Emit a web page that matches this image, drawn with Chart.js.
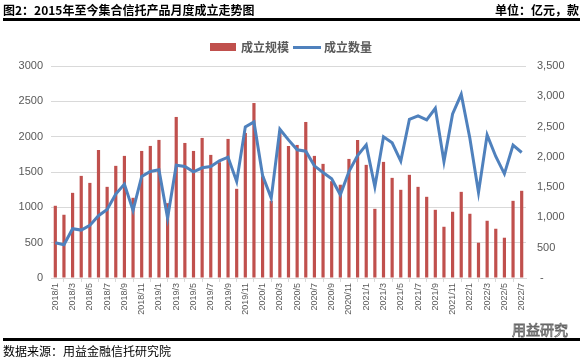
<!DOCTYPE html>
<html>
<head>
<meta charset="utf-8">
<script src="https://cdn.jsdelivr.net/npm/chart.js@4.4.1/dist/chart.umd.min.js"></script>
<style>
  body { margin: 0; background: #fff; }
  #wrap { position: relative; width: 583px; height: 360px; overflow: hidden; font-family: "Noto Sans CJK SC", sans-serif; }
  canvas { position: absolute; left: 0; top: 0; }
  .txt { position: absolute; white-space: nowrap; }
  .rule { position: absolute; left: 3px; width: 577px; height: 3px; background: #000; }
</style>
</head>
<body>
<div id="wrap">
  <canvas id="chart" width="583" height="360"></canvas>
  <div class="txt" style="left:3px;top:1px;font-size:12px;font-weight:bold;">图2：2015年至今集合信托产品月度成立走势图</div>
  <div class="txt" style="right:4px;top:1px;font-size:12px;font-weight:bold;">单位：亿元，款</div>
  <div class="rule" style="top:18px;"></div>

  <div class="txt" style="left:210px;top:43px;width:26px;height:8px;background:#C0504D;"></div>
  <div class="txt" style="left:241px;top:38px;font-size:12px;font-weight:bold;color:#595959;">成立规模</div>
  <div class="txt" style="left:293px;top:46px;width:28px;height:3px;background:#4F81BD;"></div>
  <div class="txt" style="left:324px;top:38px;font-size:12px;font-weight:bold;color:#595959;">成立数量</div>

  <div class="txt" style="left:512px;top:319px;font-size:14px;color:#fff;-webkit-text-stroke:0.8px #666;">用益研究</div>
  <div class="rule" style="top:338px;"></div>
  <div class="txt" style="left:3px;top:342px;font-size:12px;">数据来源：用益金融信托研究院</div>
</div>
<script>
// 月份
var months = [
  "2018/1","2018/2","2018/3","2018/4","2018/5","2018/6","2018/7","2018/8","2018/9","2018/10","2018/11","2018/12",
  "2019/1","2019/2","2019/3","2019/4","2019/5","2019/6","2019/7","2019/8","2019/9","2019/10","2019/11","2019/12",
  "2020/1","2020/2","2020/3","2020/4","2020/5","2020/6","2020/7","2020/8","2020/9","2020/10","2020/11","2020/12",
  "2021/1","2021/2","2021/3","2021/4","2021/5","2021/6","2021/7","2021/8","2021/9","2021/10","2021/11","2021/12",
  "2022/1","2022/2","2022/3","2022/4","2022/5","2022/6","2022/7"
];

// 成立规模（亿元）
var scale = [
  1022, 895, 1205, 1445, 1346, 1813, 1290, 1587, 1728, 1135, 1798, 1869,
  1954, 1059, 2279, 1911, 1798, 1982, 1742, 1638, 1968, 1262, 2053, 2476,
  1440, 1092, 2080, 1869, 1883, 2208, 1728, 1615, 1370, 1320, 1685, 1954,
  1601, 979, 1643, 1417, 1248, 1460, 1290, 1149, 965, 725, 937, 1219,
  909, 499, 810, 697, 570, 1092, 1234
];

// 成立数量（款）
var count = [
  582, 550, 813, 791, 868, 1028, 1132, 1385, 1550, 1115, 1676, 1758,
  1786, 989, 1863, 1841, 1753, 1819, 1841, 1934, 1995, 1594, 2495, 2577,
  1692, 1319, 2456, 2280, 2116, 2094, 1852, 1742, 1638, 1374, 1758, 2022,
  2198, 1506, 2330, 2231, 1929, 2621, 2676, 2610, 2802, 1923, 2709, 3033,
  2308, 1412, 2363, 2006, 1720, 2193, 2072
];

var tickFont = { family: "Liberation Sans", size: 11 };
var grey = "#595959";

new Chart(document.getElementById("chart"), {
  type: "bar",
  data: {
    labels: months,
    datasets: [
      {
        type: "line",
        label: "成立数量",
        data: count,
        yAxisID: "y1",
        borderColor: "#4F81BD",
        backgroundColor: "#4F81BD",
        borderWidth: 3,
        pointRadius: 0,
        tension: 0,
        fill: false,
        order: 0
      },
      {
        label: "成立规模",
        data: scale,
        yAxisID: "y",
        backgroundColor: "#C0504D",
        barPercentage: 0.37,
        categoryPercentage: 1,
        order: 1
      }
    ]
  },
  options: {
    responsive: false,
    animation: false,
    layout: { padding: { top: 66, left: 0, right: 0, bottom: 0 } },
    plugins: { legend: { display: false }, tooltip: { enabled: false } },
    scales: {
      x: {
        grid: { display: true, drawOnChartArea: false, drawTicks: true, tickLength: 4, color: "#d9d9d9" },
        border: { display: true, color: "#d9d9d9" },
        ticks: {
          autoSkip: false,
          minRotation: 90,
          maxRotation: 90,
          padding: 1,
          color: grey,
          font: { family: "Liberation Sans", size: 9 },
          callback: function(v, i) { return i % 2 === 0 ? months[i] : null; }
        },
        afterFit: function(s) { s.height = 82; }
      },
      y: {
        position: "left",
        min: 0,
        max: 3000,
        grid: { color: "#d9d9d9", drawTicks: false },
        border: { display: false },
        ticks: { stepSize: 500, padding: 8, color: grey, font: tickFont, callback: function(v) { return String(v); } },
        afterFit: function(s) { s.width = 51; }
      },
      y1: {
        position: "right",
        min: 0,
        max: 3500,
        grid: { display: false, drawTicks: false },
        border: { display: false },
        ticks: {
          stepSize: 500, padding: 11, color: grey, font: tickFont,
          callback: function(v) { return v === 0 ? " -" : v.toLocaleString("en-US"); }
        },
        afterFit: function(s) { s.width = 57; }
      }
    }
  }
});
</script>
</body>
</html>
